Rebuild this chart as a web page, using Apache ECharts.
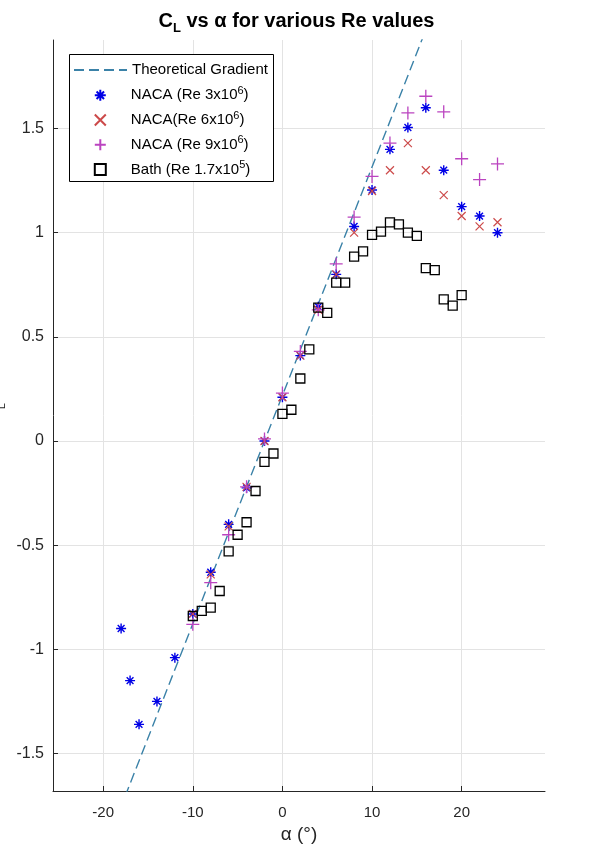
<!DOCTYPE html>
<html>
<head>
<meta charset="utf-8">
<script src="https://cdn.jsdelivr.net/npm/echarts@6/dist/echarts.min.js"></script>
<style>
  html, body { margin: 0; padding: 0; background: #ffffff; }
  #chart { width: 593px; height: 849px; }
</style>
</head>
<body>
<div id="chart"></div>
<script>
// ---- Data ----
const xTicks = [-20, -10, 0, 10, 20];
const yTicks = [-1.5, -1, -0.5, 0, 0.5, 1, 1.5];

const theoAlpha = [-20, 20];
const theoCL = [-1.974, 2.412];

const alphaRe3 = [-18, -17, -16, -14, -12, -10, -8, -6, -4, -2, 0, 2, 4, 6, 8, 10, 12, 14, 16, 18, 20, 22, 24];
const clRe3 = [-0.90, -1.15, -1.36, -1.25, -1.04, -0.83, -0.63, -0.40, -0.225, 0.0, 0.21, 0.41, 0.645, 0.80, 1.03, 1.205, 1.40, 1.505, 1.60, 1.30, 1.125, 1.08, 1.00];

const alphaRe6 = [-10, -8, -6, -4, -2, 0, 2, 4, 6, 8, 10, 12, 14, 16, 18, 20, 22, 24];
const clRe6 = [-0.83, -0.64, -0.41, -0.22, 0.0, 0.21, 0.41, 0.63, 0.80, 1.00, 1.20, 1.30, 1.43, 1.30, 1.18, 1.08, 1.03, 1.05];

const alphaRe9 = [-10, -8, -6, -4, -2, 0, 2, 4, 6, 8, 10, 12, 14, 16, 18, 20, 22, 24];
const clRe9 = [-0.88, -0.68, -0.45, -0.22, 0.01, 0.23, 0.43, 0.63, 0.85, 1.075, 1.27, 1.43, 1.575, 1.655, 1.58, 1.355, 1.255, 1.33];

const alphaBath = [-10, -9, -8, -7, -6, -5, -4, -3, -2, -1, 0, 1, 2, 3, 4, 5, 6, 7, 8, 9, 10, 11, 12, 13, 14, 15, 16, 17, 18, 19, 20];
const clBath = [-0.84, -0.815, -0.80, -0.72, -0.53, -0.45, -0.39, -0.24, -0.10, -0.06, 0.13, 0.15, 0.30, 0.44, 0.64, 0.615, 0.76, 0.76, 0.885, 0.91, 0.99, 1.005, 1.05, 1.04, 1.00, 0.985, 0.83, 0.82, 0.68, 0.65, 0.70];

const seriesNames = ['Theoretical Gradient', 'NACA (Re 3x10^6)', 'NACA(Re 6x10^6)', 'NACA (Re 9x10^6)', 'Bath (Re 1.7x10^5)'];
const legendLabels = {
  'NACA (Re 3x10^6)': '{f|NACA (Re 3x10}{s|6}{t|)}',
  'NACA(Re 6x10^6)': '{f|NACA(Re 6x10}{s|6}{t|)}',
  'NACA (Re 9x10^6)': '{f|NACA (Re 9x10}{s|6}{t|)}',
  'Bath (Re 1.7x10^5)': '{f|Bath (Re 1.7x10}{s|5}{t|)}'
};

const zip = (a, b) => a.map((v, i) => [v, b[i]]);

const FONT = "'Liberation Sans', Arial, sans-serif";
const AX = '#262626';
const LINE_COLOR = '#3b82a8';

const asteriskPath = 'path://M5 0 L5 10 M0 5 L10 5 M1.6 1.6 L8.4 8.4 M8.4 1.6 L1.6 8.4';
const crossPath = 'path://M0 0 L10 10 M10 0 L0 10';
const plusPath = 'path://M5 0 L5 10 M0 5 L10 5';

const chart = echarts.init(document.getElementById('chart'), null, { renderer: 'canvas' });

const option = {
  backgroundColor: '#ffffff',
  animation: false,
  textStyle: { fontFamily: FONT },
  title: {
    text: '{a|C}{sub|L}{a| vs α for various Re values}',
    left: 'center',
    top: 6,
    textStyle: {
      rich: {
        a: { fontFamily: FONT, fontSize: 20, fontWeight: 'bold', color: '#000', lineHeight: 24, verticalAlign: 'top' },
        sub: { fontFamily: FONT, fontSize: 13, fontWeight: 'bold', color: '#000', lineHeight: 4, verticalAlign: 'bottom' }
      }
    }
  },
  grid: { left: 53, right: 48, top: 40, bottom: 58, containLabel: false },
  xAxis: {
    type: 'value',
    min: -25.6,
    max: 29.3,
    name: 'α (°)',
    nameLocation: 'middle',
    nameGap: 33,
    nameTextStyle: { fontFamily: FONT, fontSize: 19, color: AX },
    axisLine: { show: true, onZero: false, lineStyle: { color: AX, width: 1 } },
    axisTick: { show: true, inside: true, length: 5, lineStyle: { color: AX }, customValues: xTicks },
    axisLabel: { fontFamily: FONT, fontSize: 15, color: AX, margin: 14, customValues: xTicks },
    splitLine: { show: true, lineStyle: { color: '#e3e3e3', width: 1 } }
  },
  yAxis: {
    type: 'value',
    min: -1.68,
    max: 1.925,
    axisLine: { show: true, onZero: false, lineStyle: { color: AX, width: 1 } },
    axisTick: { show: true, inside: true, length: 5, lineStyle: { color: AX }, customValues: yTicks },
    axisLabel: { fontFamily: FONT, fontSize: 16, color: AX, margin: 9, customValues: yTicks },
    splitLine: { show: true, lineStyle: { color: '#e3e3e3', width: 1 } }
  },
  legend: [
    {
      data: [seriesNames[0]],
      left: 73,
      top: 60,
      orient: 'vertical',
      itemWidth: 53,
      itemHeight: 14,
      padding: 0,
      z: 10,
      itemStyle: { color: 'rgba(0,0,0,0)', borderColor: 'rgba(0,0,0,0)', borderWidth: 0 },
      textStyle: { fontFamily: FONT, fontSize: 15, color: '#000', lineHeight: 20 }
    },
    {
      data: seriesNames.slice(1),
      left: 93.8,
      top: 85.2,
      orient: 'vertical',
      itemWidth: 11,
      itemHeight: 11,
      itemGap: 7.3,
      padding: 0,
      z: 10,
      formatter: (name) => legendLabels[name] || name,
      textStyle: {
        fontFamily: FONT, fontSize: 15, color: '#000',
        rich: {
          f: { fontFamily: FONT, fontSize: 15, color: '#000', lineHeight: 20, padding: [0, 0, 0, 20] },
          t: { fontFamily: FONT, fontSize: 15, color: '#000', lineHeight: 20 },
          s: { fontFamily: FONT, fontSize: 11, color: '#000', lineHeight: 9, verticalAlign: 'top' }
        }
      }
    }
  ],
  graphic: [
    {
      type: 'rect',
      z: 5,
      shape: { x: 69.5, y: 54.5, width: 204, height: 127 },
      style: { fill: '#ffffff', stroke: '#000000', lineWidth: 1 }
    },
    {
      type: 'text',
      z: 5,
      x: -3,
      y: 412,
      rotation: Math.PI / 2,
      style: {
        text: '{c|C}{l|L}',
        align: 'center',
        verticalAlign: 'middle',
        rich: {
          c: { fontFamily: FONT, fontSize: 16, fill: AX, lineHeight: 20, verticalAlign: 'top' },
          l: { fontFamily: FONT, fontSize: 11, fill: AX, lineHeight: 11, verticalAlign: 'bottom' }
        }
      }
    }
  ],
  series: [
    {
      name: seriesNames[0],
      type: 'line',
      data: zip(theoAlpha, theoCL),
      symbol: 'none',
      showSymbol: false,
      clip: true,
      lineStyle: { color: LINE_COLOR, width: 1.4, type: [10, 5] },
      itemStyle: { color: LINE_COLOR },
      z: 2
    },
    {
      name: seriesNames[1],
      type: 'scatter',
      data: zip(alphaRe3, clRe3),
      symbol: asteriskPath,
      symbolSize: 10,
      itemStyle: { color: 'rgba(0,0,0,0)', borderColor: '#0000e6', borderWidth: 1.4, opacity: 1 },
      z: 3
    },
    {
      name: seriesNames[2],
      type: 'scatter',
      data: zip(alphaRe6, clRe6),
      symbol: crossPath,
      symbolSize: 8,
      itemStyle: { color: 'rgba(0,0,0,0)', borderColor: '#cc4a4a', borderWidth: 1.2, opacity: 1 },
      z: 3
    },
    {
      name: seriesNames[3],
      type: 'scatter',
      data: zip(alphaRe9, clRe9),
      symbol: plusPath,
      symbolSize: 13,
      itemStyle: { color: 'rgba(0,0,0,0)', borderColor: '#bb44c0', borderWidth: 1.3, opacity: 1 },
      z: 3
    },
    {
      name: seriesNames[4],
      type: 'scatter',
      data: zip(alphaBath, clBath),
      symbol: 'rect',
      symbolSize: 9,
      itemStyle: { color: 'rgba(0,0,0,0)', borderColor: '#000000', borderWidth: 1.3, opacity: 1 },
      z: 3
    }
  ]
};

chart.setOption(option);
</script>
</body>
</html>
